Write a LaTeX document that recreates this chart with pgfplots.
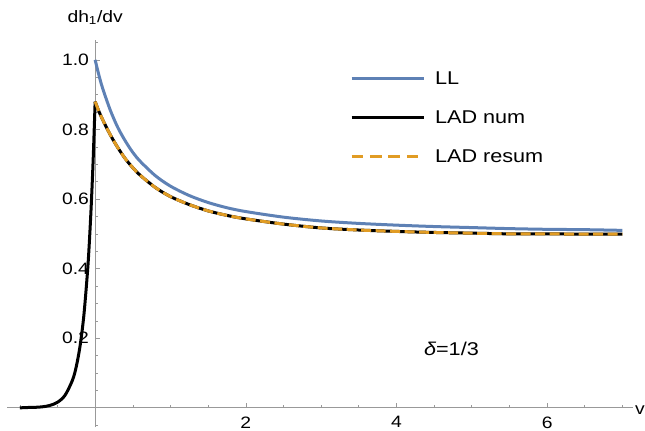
\documentclass[border=0pt]{standalone}
\usepackage{fontspec}
\setmainfont{Liberation Sans}[FakeStretch=1.17]
\usepackage{pgfplots}
\pgfplotsset{compat=1.18}
\definecolor{mmablue}{rgb}{0.368417,0.506779,0.709798}
\definecolor{mmaorange}{rgb}{0.880722,0.611041,0.142051}
\definecolor{axgray}{gray}{0.6}
\begin{document}
\begin{tikzpicture}
\begin{axis}[name=ax,
  scale only axis, width=626bp, height=387bp,
  xmin=-1.17, xmax=7.14, ymin=-0.055, ymax=1.057,
  axis lines=middle, axis line style={axgray, line width=0.8bp, -},
  clip=false,
  xtick={2,4,6}, xticklabels={2,4,6},
  minor xtick={-1,-0.5,0.5,1,1.5,2.5,3,3.5,4.5,5,5.5,6.5,7},
  ytick={0.2,0.4,0.6,0.8,1.0}, yticklabels={0.2,0.4,0.6,0.8,1.0},
  minor ytick={-0.05,0.05,0.1,0.15,0.25,0.3,0.35,0.45,0.5,0.55,0.65,0.7,0.75,0.85,0.9,0.95,1.05},
  tick align=inside,
  major tick length=5bp, minor tick length=3bp,
  tick style={axgray, line width=0.6bp},
  tick label style={font=\fontsize{16.5bp}{18bp}\selectfont, black, inner sep=0pt},
  xticklabel style={anchor=north, yshift=-8.5bp},
  yticklabel style={anchor=east, xshift=-6bp},
  legend style={draw=none, fill=none, inner sep=0pt, outer sep=0pt,
    at={(0.548,0.919)}, anchor=north west,
    font=\fontsize{18.5bp}{20bp}\selectfont, row sep=25bp, column sep=10bp,
    nodes={inner sep=0pt}},
  legend cell align=left,
  legend image code/.code={\draw[#1] (0bp,0bp) -- (72bp,0bp);},
]
\addplot[mmablue, line width=3bp, smooth] coordinates {
(0,1.000) (0.05,0.956) (0.1,0.918) (0.2,0.856) (0.3,0.806) (0.4,0.767)
(0.5,0.734) (0.6,0.708) (0.8,0.667) (1.0,0.637) (1.25,0.610) (1.5,0.590)
(1.75,0.575) (2,0.564) (2.5,0.548) (3,0.537) (3.5,0.530) (4,0.525)
(4.5,0.521) (5,0.518) (5.5,0.515) (6,0.513) (6.5,0.512) (7,0.510)};
\addlegendentry{LL}
\addplot[black, line width=3bp, smooth, forget plot] coordinates {
(-1.0,0.000) (-0.9,0.001) (-0.8,0.0015) (-0.7,0.003) (-0.6,0.007) (-0.5,0.016)
(-0.4,0.036) (-0.3,0.080) (-0.25,0.119) (-0.2,0.178) (-0.15,0.265) (-0.1,0.395)
(-0.075,0.483) (-0.05,0.590) (-0.025,0.720) (0,0.880)};
\addplot[black, line width=3bp, smooth] coordinates {
(0,0.880) (0.05,0.852) (0.1,0.828) (0.2,0.785) (0.3,0.748) (0.4,0.716)
(0.5,0.690) (0.6,0.668) (0.8,0.633) (1.0,0.607) (1.25,0.584) (1.5,0.566)
(1.75,0.553) (2,0.543) (2.5,0.528) (3,0.517) (3.5,0.511) (4,0.507)
(4.5,0.504) (5,0.502) (5.5,0.500) (6,0.500) (6.5,0.499) (7,0.499)};
\addlegendentry{LAD num}
\addplot[mmaorange, line width=3bp, smooth, dash pattern=on 10bp off 4.5bp,
  legend image code/.code={\draw[mmaorange, line width=3bp, dash pattern=on 11.7bp off 6.7bp] (0bp,0bp) -- (72bp,0bp);}] coordinates {
(0,0.880) (0.05,0.852) (0.1,0.828) (0.2,0.785) (0.3,0.748) (0.4,0.716)
(0.5,0.690) (0.6,0.668) (0.8,0.633) (1.0,0.607) (1.25,0.584) (1.5,0.566)
(1.75,0.553) (2,0.543) (2.5,0.528) (3,0.517) (3.5,0.511) (4,0.507)
(4.5,0.504) (5,0.502) (5.5,0.500) (6,0.500) (6.5,0.499) (7,0.499)};
\addlegendentry{LAD resum}
\node[anchor=base, font=\fontsize{16.5bp}{18bp}\selectfont] at (axis cs:0,1.108) {dh\textsubscript{1}/dv};
\node[anchor=base west, inner sep=0pt, xshift=2bp, yshift=-6.5bp, font=\fontsize{16.5bp}{18bp}\selectfont] at (axis cs:7.14,0) {v};
\node[font=\fontsize{18.5bp}{20bp}\selectfont] at (axis cs:4.73,0.169) {\itshape δ\upshape =1/3};
\end{axis}
\pgfresetboundingbox
\path ([shift={(-7bp,-4bp)}]ax.south west) rectangle ([shift={(12bp,40bp)}]ax.north east);
\end{tikzpicture}
\end{document}
